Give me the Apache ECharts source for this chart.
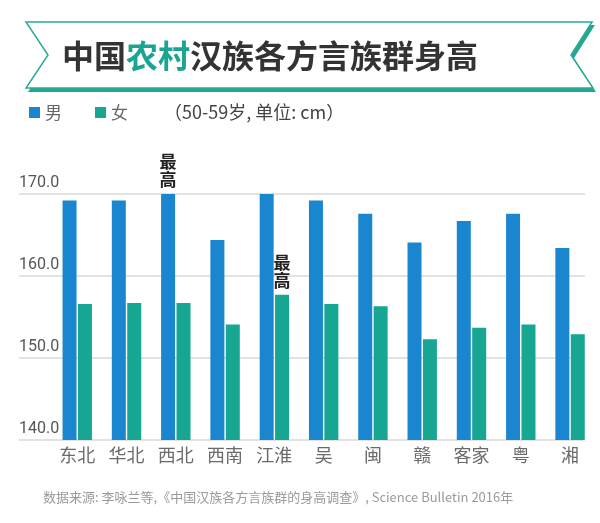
<!DOCTYPE html>
<html>
<head>
<meta charset="utf-8">
<script src="https://cdn.jsdelivr.net/npm/echarts@6/dist/echarts.min.js"></script>
<style>
html,body{margin:0;padding:0;background:#fff;}
#chart{width:600px;height:523px;}
</style>
</head>
<body>
<div id="chart"></div>
<script>
// Data
const categories = ['东北','华北','西北','西南','江淮','吴','闽','赣','客家','粤','湘'];
const maleHeights = [169.2, 169.2, 170.5, 164.4, 170.3, 169.2, 167.6, 164.1, 166.7, 167.6, 163.4];
const femaleHeights = [156.6, 156.7, 156.7, 154.1, 157.7, 156.6, 156.3, 152.3, 153.7, 154.1, 152.9];
const yTicks = [140, 150, 160, 170];
const highestMaleIndex = 2;
const highestFemaleIndex = 4;
const seriesNames = ['男', '女'];

const BLUE = '#1b86d0';
const TEAL = '#16a692';
const CJK = '"Noto Sans CJK SC", "Noto Sans", sans-serif';
const NUM = 'Roboto, "Noto Sans", sans-serif';

const topLabel = {
  show: true, position: 'top', distance: 5,
  formatter: '最\n高', fontFamily: CJK, fontSize: 17, lineHeight: 18,
  fontWeight: 'bold', color: '#222'
};

const maleData = maleHeights.map((v, i) => i === highestMaleIndex ? {value: v, label: topLabel} : v);
const femaleData = femaleHeights.map((v, i) => i === highestFemaleIndex ? {value: v, label: topLabel} : v);

const chart = echarts.init(document.getElementById('chart'), null, {renderer: 'canvas'});

const option = {
  backgroundColor: '#fff',
  animation: false,
  legend: {
    left: 24, top: 99,
    icon: 'rect', itemWidth: 11, itemHeight: 11, itemGap: 33,
    data: seriesNames,
    textStyle: {fontFamily: CJK, fontSize: 17, color: '#666'}
  },
  grid: [
    {left: 19, right: 15, top: 194, height: 246},
    {left: 52.6, right: 5.3, top: 194, height: 246}
  ],
  xAxis: [
    {gridIndex: 0, type: 'value', show: false, min: 0, max: 1},
    {
      gridIndex: 1, type: 'category', data: categories,
      axisLine: {show: false}, axisTick: {show: false},
      axisLabel: {fontFamily: CJK, fontSize: 18, color: '#6a6a6a', margin: 6}
    }
  ],
  yAxis: [
    {
      gridIndex: 0, type: 'value', min: yTicks[0], max: yTicks[yTicks.length - 1], interval: 10,
      axisLine: {show: false}, axisTick: {show: false},
      axisLabel: {
        inside: true, margin: 0, align: 'left', verticalAlign: 'bottom',
        padding: [0, 0, 3, 0],
        formatter: v => v.toFixed(1),
        fontFamily: NUM, fontSize: 16, color: '#555'
      },
      splitLine: {show: true, lineStyle: {color: '#d9d9d9', width: 1.5}}
    },
    {
      gridIndex: 1, type: 'value', min: yTicks[0], max: yTicks[yTicks.length - 1], interval: 10,
      show: false, splitLine: {show: false}
    }
  ],
  series: [
    {
      name: seriesNames[0], type: 'bar', xAxisIndex: 1, yAxisIndex: 1,
      data: maleData, barWidth: 14, barGap: '10%',
      itemStyle: {color: BLUE}
    },
    {
      name: seriesNames[1], type: 'bar', xAxisIndex: 1, yAxisIndex: 1,
      data: femaleData, barWidth: 14, barGap: '10%',
      itemStyle: {color: TEAL}
    }
  ],
  graphic: [
    {
      type: 'polygon', z: 1,
      shape: {points: [[28, 25], [595, 25], [574, 58], [596, 92], [28, 92], [50, 58]]},
      style: {fill: '#22a892'}
    },
    {
      type: 'polygon', z: 2,
      shape: {points: [[26, 22], [592, 22], [571, 55], [593, 88], [26, 88], [48, 55]]},
      style: {fill: '#fff', stroke: '#2aab96', lineWidth: 1.5}
    },
    {
      type: 'text', z: 3, left: 62, top: 40,
      style: {
        text: '{a|中国}{b|农村}{a|汉族各方言族群身高}',
        rich: {
          a: {fontFamily: CJK, fontSize: 32, fontWeight: 'bold', fill: '#333', color: '#333'},
          b: {fontFamily: CJK, fontSize: 32, fontWeight: 'bold', fill: '#1aa593', color: '#1aa593'}
        }
      }
    },
    {
      type: 'text', z: 3, left: 164, top: 103,
      style: {text: '（50-59岁, 单位: cm）', fontFamily: CJK, fontSize: 18, fill: '#444'}
    },
    {
      type: 'text', z: 3, left: 43, top: 491,
      style: {text: '数据来源: 李咏兰等,《中国汉族各方言族群的身高调查》, Science Bulletin 2016年', fontFamily: CJK, fontSize: 13, fill: '#9a9a9a'}
    }
  ]
};

chart.setOption(option);
</script>
</body>
</html>
